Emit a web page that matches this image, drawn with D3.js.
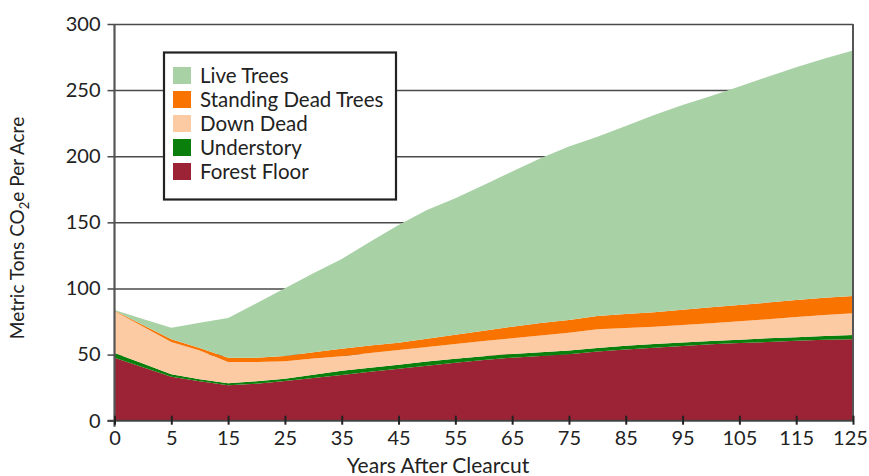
<!DOCTYPE html>
<html>
<head>
<meta charset="utf-8">
<script src="https://cdn.jsdelivr.net/npm/d3@7"></script>
<style>
  html, body { margin: 0; padding: 0; background: #fff; }
  svg { display: block; }
  text { font-family: Lato, "Open Sans", sans-serif; fill: #222; }
</style>
</head>
<body>
<svg id="chart" width="869" height="476"></svg>
<script>
// Categories (years after clearcut)
const years = [0, 1, 5, 10, 15, 20, 25, 30, 35, 40, 45, 50, 55, 60, 65, 70, 75, 80, 85, 90, 95, 100, 105, 110, 115, 120, 125];
const xTickYears = [0, 5, 15, 25, 35, 45, 55, 65, 75, 85, 95, 105, 115, 125];
const yTicks = [0, 50, 100, 150, 200, 250, 300];

// Series values (metric tons CO2e per acre), bottom to top
const forestFloor   = [47.7, 40.5, 33.3, 29.8, 26.8, 28.0, 30.0, 32.3, 34.5, 37.0, 39.3, 41.6, 43.9, 45.9, 47.7, 49.0, 50.2, 52.4, 53.8, 55.2, 56.5, 57.8, 58.7, 59.5, 60.4, 61.3, 61.6];
const understory    = [3.5, 2.7, 1.8, 1.5, 1.5, 1.8, 1.8, 2.5, 3.3, 3.1, 3.1, 3.1, 3.0, 2.8, 2.8, 2.8, 2.8, 2.6, 2.8, 2.8, 2.7, 2.5, 2.6, 2.8, 2.8, 2.8, 3.2];
const downDead      = [31.8, 28.0, 24.4, 21.7, 16.1, 14.6, 13.1, 12.2, 11.0, 11.1, 11.1, 11.1, 11.1, 11.5, 11.8, 12.7, 13.6, 14.1, 13.5, 13.1, 13.2, 13.4, 13.9, 14.4, 15.2, 15.9, 16.4];
const standingDead  = [0.3, 1.2, 2.1, 2.0, 3.3, 3.3, 4.0, 4.7, 5.7, 5.6, 5.5, 6.2, 7.0, 7.8, 8.8, 9.3, 9.6, 10.1, 10.5, 10.9, 11.5, 12.1, 12.3, 12.6, 12.8, 13.0, 13.1];
const liveTrees     = [0.5, 4.6, 8.7, 19.1, 30.0, 41.1, 51.2, 59.8, 67.8, 78.6, 89.0, 97.4, 103.2, 110.3, 117.3, 124.7, 131.1, 135.6, 142.3, 149.2, 154.9, 159.8, 165.2, 170.9, 176.1, 181.0, 185.7];

const seriesNames = ["Forest Floor", "Understory", "Down Dead", "Standing Dead Trees", "Live Trees"];
const seriesColors = ["#9b2335", "#0b7f0b", "#fccaa3", "#f97300", "#a8d2a6"];
const seriesValues = [forestFloor, understory, downDead, standingDead, liveTrees];

const table = years.map((yr, i) => {
  const row = { year: yr };
  seriesNames.forEach((n, k) => row[n] = seriesValues[k][i]);
  return row;
});

const svg = d3.select("#chart");
const mLeft = 114.5, mRight = 853, mTop = 24, mBottom = 420.7;

const x = d3.scalePoint().domain(years).range([mLeft, mRight]);
const y = d3.scaleLinear().domain([0, 300]).range([mBottom, mTop]);

// gridlines
const grid = svg.append("g").attr("transform", `translate(${mLeft},0)`)
  .call(d3.axisLeft(y).tickValues(yTicks.slice(1)).tickSize(-(mRight - mLeft)).tickFormat(""));
grid.select(".domain").remove();
grid.selectAll("line").attr("stroke", "#4a4a4a").attr("stroke-width", 1.5);

// stacked areas
const stack = d3.stack().keys(seriesNames);
const layers = stack(table);
const area = d3.area()
  .x(d => x(d.data.year))
  .y0(d => y(d[0]))
  .y1(d => y(d[1]));
svg.append("g").selectAll("path").data(layers).join("path")
  .attr("d", area)
  .attr("fill", (d, i) => seriesColors[i]);

// right border
svg.append("line").attr("x1", mRight).attr("x2", mRight).attr("y1", y(300)).attr("y2", mBottom)
  .attr("stroke", "#555").attr("stroke-width", 2);

// y axis
const yAxis = svg.append("g").attr("transform", `translate(${mLeft},0)`)
  .call(d3.axisLeft(y).tickValues(yTicks).tickSize(7).tickPadding(7));
yAxis.select(".domain").attr("stroke", "#555").attr("stroke-width", 2.2)
  .attr("d", `M0,${y(300)}V${mBottom + 6}`);
yAxis.selectAll(".tick line").attr("stroke", "#4a4a4a").attr("stroke-width", 1.5);
yAxis.selectAll(".tick text").style("font-size", "20px").attr("fill", "#222");

// x axis
const xAxis = svg.append("g").attr("transform", `translate(0,${mBottom})`)
  .call(d3.axisBottom(x).tickValues(xTickYears).tickSize(4).tickPadding(6));
xAxis.select(".domain").attr("stroke", "#444").attr("stroke-width", 2).attr("d", `M${mLeft - 7},0H${mRight}`);
xAxis.selectAll(".tick line").attr("stroke", "#222").attr("stroke-width", 2).attr("y1", -5).attr("y2", 4);
xAxis.selectAll(".tick text").style("font-size", "20px").attr("fill", "#222")
  .attr("dx", d => d === 125 ? -3 : 0);

// axis titles
svg.append("text").attr("x", 438).attr("y", 473).attr("text-anchor", "middle")
  .style("font-size", "21px").text("Years After Clearcut");

const yt = svg.append("text").attr("transform", "translate(24,228) rotate(-90)")
  .attr("text-anchor", "middle").style("font-size", "19px");
yt.append("tspan").text("Metric Tons CO");
yt.append("tspan").attr("dy", 5).style("font-size", "13px").text("2");
yt.append("tspan").attr("dy", -5).text("e Per Acre");

// legend
const legendOrder = ["Live Trees", "Standing Dead Trees", "Down Dead", "Understory", "Forest Floor"];
const lg = svg.append("g");
lg.append("rect").attr("x", 164).attr("y", 52.5).attr("width", 232).attr("height", 147)
  .attr("fill", "#fff").attr("stroke", "#222").attr("stroke-width", 2.2);
legendOrder.forEach((name, i) => {
  const k = seriesNames.indexOf(name);
  const g = lg.append("g").attr("transform", `translate(173,${67 + i * 24})`);
  g.append("rect").attr("width", 18).attr("height", 17).attr("fill", seriesColors[k]);
  g.append("text").attr("x", 27).attr("y", 16).style("font-size", "20.5px").text(name);
});
</script>
</body>
</html>
